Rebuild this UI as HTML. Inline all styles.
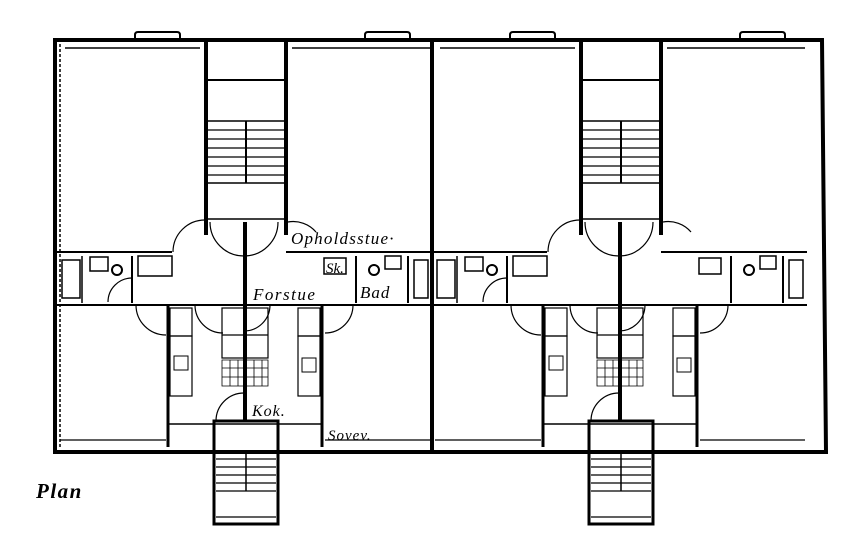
<!DOCTYPE html>
<html><head><meta charset="utf-8"><style>
body{margin:0;background:#fff}
svg{display:block}
text{font-family:"Liberation Serif",serif;font-style:italic;fill:#000}
</style></head><body>
<svg width="853" height="558" viewBox="0 0 853 558" xmlns="http://www.w3.org/2000/svg">
<defs>
<g id="half" stroke="#000" fill="none">
  <path d="M135 41 v-6 q0-3 3-3 h39 q3 0 3 3 v6" stroke-width="2"/>
  <path d="M365 41 v-6 q0-3 3-3 h39 q3 0 3 3 v6" stroke-width="2"/>
  <line x1="65" y1="48" x2="200" y2="48" stroke-width="1.5"/>
  <line x1="292" y1="48" x2="430" y2="48" stroke-width="1.5"/>
  <line x1="206" y1="40" x2="206" y2="235" stroke-width="4"/>
  <line x1="286" y1="40" x2="286" y2="235" stroke-width="4"/>
  <line x1="208" y1="80" x2="284" y2="80" stroke-width="2"/>
  <line x1="208" y1="121" x2="284" y2="121" stroke-width="1.5"/>
  <line x1="208" y1="183" x2="284" y2="183" stroke-width="1.5"/>
  <line x1="208" y1="219" x2="284" y2="219" stroke-width="1.5"/>
  <line x1="246" y1="121" x2="246" y2="183" stroke-width="2"/>
  <path d="M208 130h76M208 139h76M208 148h76M208 157h76M208 166h76M208 175h76" stroke-width="1.2"/>
  <path d="M210 222 a34 34 0 0 0 68 0" stroke-width="1.2"/>
  <path d="M173 252 a32 32 0 0 1 32 -32" stroke-width="1.2"/>
  <path d="M288 222 a30 30 0 0 1 28 10" stroke-width="1.2"/>
  <line x1="245" y1="222" x2="245" y2="420" stroke-width="4"/>
  <line x1="56" y1="252" x2="172" y2="252" stroke-width="2"/>
  <line x1="286" y1="252" x2="432" y2="252" stroke-width="2"/>
  <line x1="56" y1="305" x2="432" y2="305" stroke-width="2"/>
  <line x1="82" y1="256" x2="82" y2="303" stroke-width="1.5"/>
  <line x1="132" y1="256" x2="132" y2="303" stroke-width="2"/>
  <rect x="62" y="260" width="18" height="38" stroke-width="1.5"/>
  <rect x="90" y="257" width="18" height="14" stroke-width="1.5"/>
  <circle cx="117" cy="270" r="5" stroke-width="2"/>
  <path d="M108 302 a24 24 0 0 1 24 -24" stroke-width="1.2"/>
  <rect x="138" y="256" width="34" height="20" stroke-width="1.5"/>
  <rect x="324" y="258" width="22" height="16" stroke-width="1.5"/>
  <line x1="356" y1="256" x2="356" y2="303" stroke-width="2"/>
  <line x1="408" y1="256" x2="408" y2="303" stroke-width="2"/>
  <circle cx="374" cy="270" r="5" stroke-width="2"/>
  <rect x="385" y="256" width="16" height="13" stroke-width="1.5"/>
  <rect x="414" y="260" width="14" height="38" stroke-width="1.5"/>
  <line x1="168" y1="305" x2="168" y2="447" stroke-width="3"/>
  <line x1="322" y1="305" x2="322" y2="447" stroke-width="3"/>
  <line x1="168" y1="424" x2="322" y2="424" stroke-width="1.5"/>
  <path d="M136 305 a30 30 0 0 0 30 30" stroke-width="1.2"/>
  <path d="M195 305 a28 28 0 0 0 28 28" stroke-width="1.2"/>
  <path d="M270 305 a26 26 0 0 1 -26 26" stroke-width="1.2"/>
  <path d="M353 305 a28 28 0 0 1 -28 28" stroke-width="1.2"/>
  <rect x="170" y="308" width="22" height="28" stroke-width="1.2"/>
  <rect x="170" y="336" width="22" height="60" stroke-width="1.2"/>
  <rect x="174" y="356" width="14" height="14" stroke-width="1"/>
  <rect x="298" y="308" width="22" height="28" stroke-width="1.2"/>
  <rect x="298" y="336" width="22" height="60" stroke-width="1.2"/>
  <rect x="302" y="358" width="14" height="14" stroke-width="1"/>
  <rect x="222" y="308" width="22" height="50" stroke-width="1.2"/>
  <rect x="246" y="308" width="22" height="50" stroke-width="1.2"/>
  <line x1="222" y1="335" x2="268" y2="335" stroke-width="1.2"/>
  <path d="M222 360h46v26h-46zM222 368h46M222 377h46M230 360v26M238 360v26M254 360v26M262 360v26" stroke-width="0.8"/>
  <path d="M216 421 a28 28 0 0 1 28 -28" stroke-width="1.2"/>
  <rect x="214" y="421" width="64" height="103" stroke-width="3"/>
  <line x1="216" y1="451" x2="276" y2="451" stroke-width="1.5"/>
  <path d="M216 459h60M216 467h60M216 475h60M216 483h60M216 491h60" stroke-width="1.3"/>
  <line x1="246" y1="451" x2="246" y2="491" stroke-width="1.5"/>
  <line x1="216" y1="517" x2="276" y2="517" stroke-width="1.2"/>
  <line x1="60" y1="440" x2="166" y2="440" stroke-width="1.2"/>
  <line x1="325" y1="440" x2="430" y2="440" stroke-width="1.2"/>
</g>
</defs>
<g stroke="#000" fill="none">
  <path d="M55 40 H822 L826 452 H55 Z" stroke-width="4"/>
  <line x1="432" y1="40" x2="432" y2="452" stroke-width="4"/>
  <line x1="60" y1="44" x2="60" y2="448" stroke-width="1.5" stroke-dasharray="3 2"/>
</g>
<use href="#half"/>
<use href="#half" transform="translate(375 0)"/>
<text x="291" y="244" font-size="17" letter-spacing="1.2">Opholdsstue·</text>
<text x="326" y="273" font-size="15">Sk.</text>
<text x="360" y="298" font-size="17" letter-spacing="1">Bad</text>
<text x="253" y="300" font-size="17" letter-spacing="1.5">Forstue</text>
<text x="252" y="416" font-size="16" letter-spacing="1">Kok.</text>
<text x="328" y="440" font-size="15" letter-spacing="1">Sovev.</text>
<text x="36" y="498" font-size="21" font-weight="bold" letter-spacing="1.5">Plan</text>
</svg>
</body></html>
